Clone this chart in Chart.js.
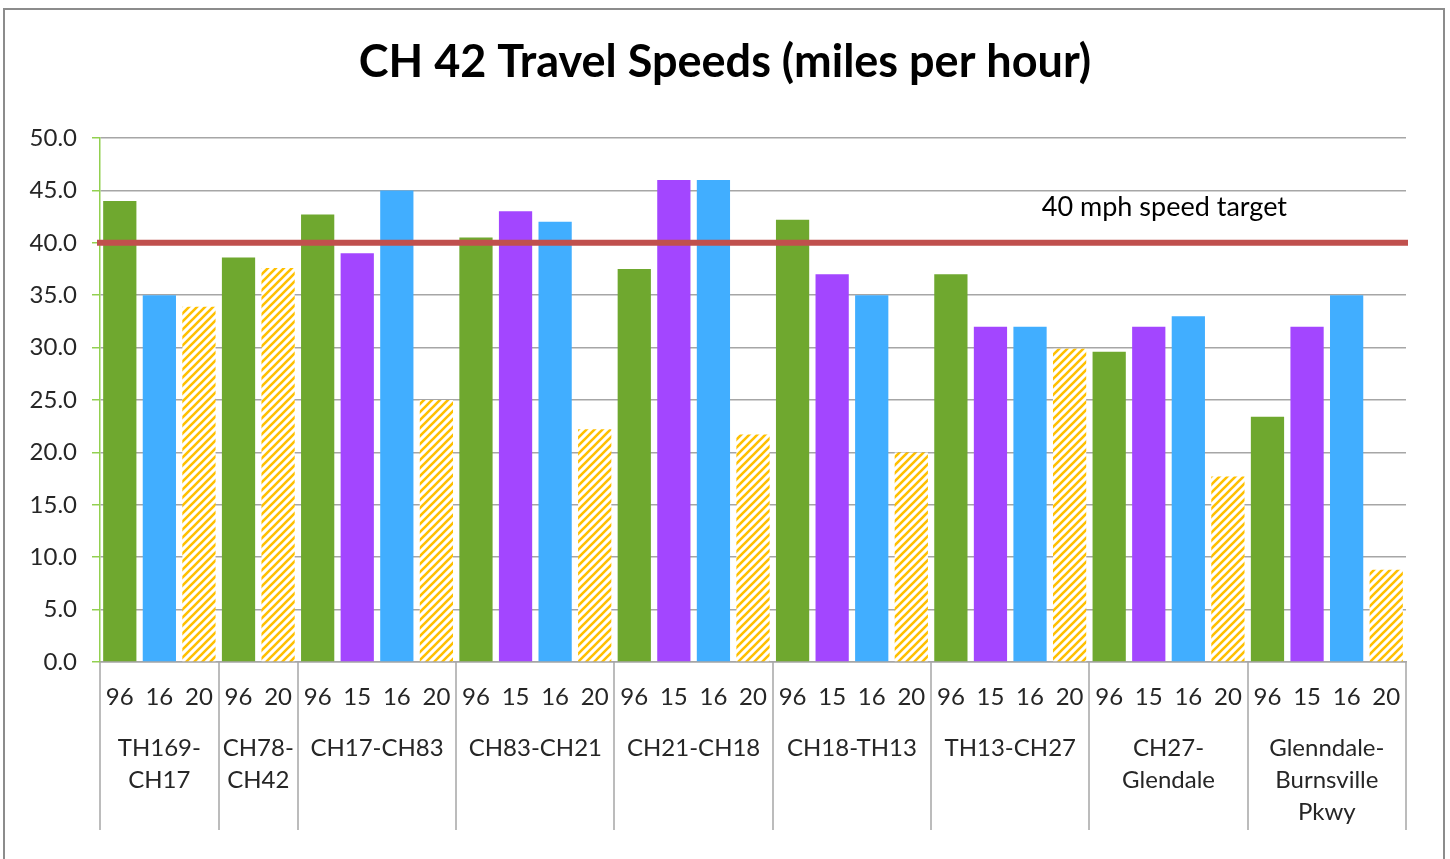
<!DOCTYPE html>
<html lang="en">
<head>
    <meta charset="UTF-8">
    <title>CH 42 Travel Speeds</title>
    <style>
        body {
            margin: 0;
            background-color: #fff;
        }
        .frame {
            position: absolute;
            left: 3px;
            top: 8px;
            width: 1438px;
            height: 860px;
            border: 2px solid #8c8c8c;
        }
        .chart-box {
            position: absolute;
            left: 0;
            top: 0;
            width: 1450px;
            height: 859px;
        }
    </style>
    <script src="https://cdn.jsdelivr.net/npm/chart.js"></script>
</head>
<body>
<div class="frame"></div>
<div class="chart-box">
    <canvas id="speedChart" width="1450" height="859"></canvas>
</div>

<script>
    // Segments (multi-line names) and the years measured in each one
    const groupNames = [
        ['TH169-', 'CH17'],
        ['CH78-', 'CH42'],
        ['CH17-CH83'],
        ['CH83-CH21'],
        ['CH21-CH18'],
        ['CH18-TH13'],
        ['TH13-CH27'],
        ['CH27-', 'Glendale'],
        ['Glenndale-', 'Burnsville', 'Pkwy']
    ];
    const groupYears = [
        ['96', '16', '20'],
        ['96', '20'],
        ['96', '15', '16', '20'],
        ['96', '15', '16', '20'],
        ['96', '15', '16', '20'],
        ['96', '15', '16', '20'],
        ['96', '15', '16', '20'],
        ['96', '15', '16', '20'],
        ['96', '15', '16', '20']
    ];
    // Speeds in mph, one per bar, in the order above
    const speeds = [
        44.0, 35.0, 33.9,
        38.6, 37.6,
        42.7, 39.0, 45.0, 25.0,
        40.5, 43.0, 42.0, 22.2,
        37.5, 46.0, 46.0, 21.7,
        42.2, 37.0, 35.0, 20.0,
        37.0, 32.0, 32.0, 29.9,
        29.6, 32.0, 33.0, 17.7,
        23.4, 32.0, 35.0, 8.8
    ];
    const targetSpeed = 40;
    const targetLabel = '40 mph speed target';
    const yTicks = [0, 5, 10, 15, 20, 25, 30, 35, 40, 45, 50];

    const fontFamily = 'Lato, "Open Sans", sans-serif';

    // Hatch pattern for the 2020 bars
    function hatchPattern(color) {
        const c = document.createElement('canvas');
        c.width = 8;
        c.height = 8;
        const g = c.getContext('2d');
        g.fillStyle = '#fff';
        g.fillRect(0, 0, 8, 8);
        g.strokeStyle = color;
        g.lineWidth = 2.6;
        g.beginPath();
        g.moveTo(-2, 10); g.lineTo(10, -2);
        g.moveTo(-6, 6); g.lineTo(6, -6);
        g.moveTo(2, 14); g.lineTo(14, 2);
        g.stroke();
        return document.getElementById('speedChart').getContext('2d').createPattern(c, 'repeat');
    }

    const yearColors = {
        '96': '#6fa82f',
        '15': '#a346ff',
        '16': '#41aeff',
        '20': hatchPattern('#ffc000')
    };

    const yearLabels = groupYears.flat();
    const barColors = yearLabels.map(y => yearColors[y]);

    // Draws the target line, its label and the second row of category labels
    const extrasPlugin = {
        id: 'extras',
        afterDatasetsDraw(chart) {
            const ctx = chart.ctx;
            const area = chart.chartArea;
            const y = chart.scales.y;
            const ty = y.getPixelForValue(targetSpeed);
            ctx.save();
            ctx.strokeStyle = '#c0504d';
            ctx.lineWidth = 6;
            ctx.beginPath();
            ctx.moveTo(area.left - 3, ty);
            ctx.lineTo(area.right + 2, ty);
            ctx.stroke();

            ctx.fillStyle = '#000';
            ctx.font = '27px ' + fontFamily;
            ctx.textAlign = 'center';
            ctx.textBaseline = 'middle';
            ctx.fillText(targetLabel, area.left + (area.right - area.left) * 0.815, ty - 36);
            ctx.restore();
        },
        afterDraw(chart) {
            const ctx = chart.ctx;
            const x = chart.scales.x;
            const area = chart.chartArea;
            const slot = x.getPixelForValue(1) - x.getPixelForValue(0);
            ctx.save();
            ctx.strokeStyle = '#a6a6a6';
            ctx.lineWidth = 1.5;
            ctx.fillStyle = '#262626';
            ctx.font = '24px ' + fontFamily;
            ctx.textAlign = 'center';
            ctx.textBaseline = 'middle';
            let start = 0;
            const edges = [start];
            groupYears.forEach(g => { start += g.length; edges.push(start); });
            edges.forEach(i => {
                const px = Math.round(x.getPixelForValue(i) - slot / 2);
                ctx.beginPath();
                ctx.moveTo(px, area.bottom);
                ctx.lineTo(px, area.bottom + 168);
                ctx.stroke();
            });
            groupNames.forEach((lines, gi) => {
                const cx = (x.getPixelForValue(edges[gi]) + x.getPixelForValue(edges[gi + 1] - 1)) / 2;
                lines.forEach((line, li) => {
                    ctx.fillText(line, cx, area.bottom + 86 + li * 32);
                });
            });
            ctx.restore();
        }
    };

    new Chart(document.getElementById('speedChart'), {
        type: 'bar',
        data: {
            labels: yearLabels,
            datasets: [{
                data: speeds,
                backgroundColor: barColors,
                borderWidth: 0,
                barPercentage: 0.84,
                categoryPercentage: 1.0
            }]
        },
        options: {
            responsive: false,
            animation: false,
            layout: {
                padding: 0
            },
            plugins: {
                legend: { display: false },
                tooltip: { enabled: false },
                title: {
                    display: true,
                    text: 'CH 42 Travel Speeds (miles per hour)',
                    color: '#000',
                    font: { family: fontFamily, size: 45, weight: 'bold', lineHeight: 1.2 },
                    padding: { top: 35, bottom: 49 }
                }
            },
            scales: {
                x: {
                    grid: { display: false, drawTicks: false },
                    border: { display: true, color: '#a6a6a6', width: 1.5 },
                    ticks: {
                        color: '#262626',
                        font: { family: fontFamily, size: 24 },
                        padding: 21,
                        autoSkip: false,
                        maxRotation: 0
                    },
                    afterFit(scale) { scale.height = 197; }
                },
                y: {
                    min: 0,
                    max: 50,
                    afterBuildTicks(scale) { scale.ticks = yTicks.map(v => ({ value: v })); },
                    grid: {
                        color: '#a6a6a6',
                        lineWidth: 1.5,
                        tickColor: '#92d050',
                        tickLength: 8
                    },
                    border: { color: '#92d050', width: 1.5 },
                    ticks: {
                        color: '#262626',
                        font: { family: fontFamily, size: 24 },
                        padding: 15,
                        callback: v => v.toFixed(1)
                    },
                    afterFit(scale) { scale.width = 100; }
                },
                // empty right-hand axis, only reserves the margin right of the plot
                yRight: {
                    position: 'right',
                    min: 0,
                    max: 50,
                    grid: { display: false, drawTicks: false },
                    border: { display: false },
                    ticks: { display: false },
                    afterFit(scale) { scale.width = 44; }
                }
            }
        },
        plugins: [extrasPlugin]
    });
</script>
</body>
</html>
